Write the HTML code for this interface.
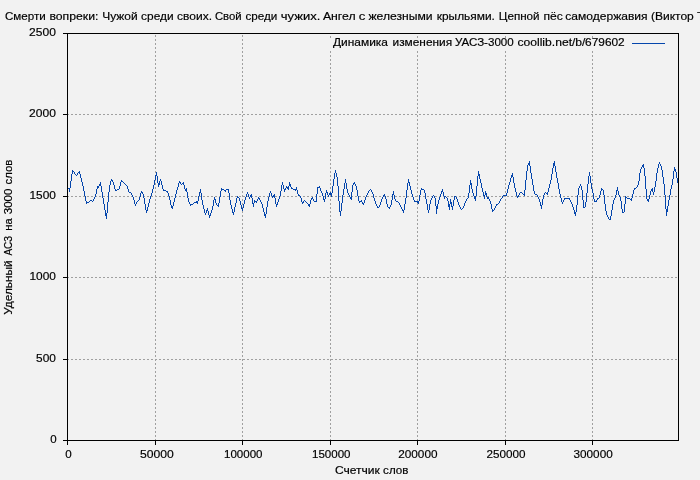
<!DOCTYPE html>
<html><head><meta charset="utf-8"><title>chart</title>
<style>
html,body{margin:0;padding:0;background:#f2f2f2;}
body{width:700px;height:480px;overflow:hidden;}
svg{display:block;will-change:transform;}
text{font-family:"Liberation Sans",sans-serif;font-size:11.5px;fill:#000;stroke:#000;stroke-width:0.18px;}
</style></head><body>
<svg width="700" height="480" viewBox="0 0 700 480">
<rect x="0" y="0" width="700" height="480" fill="#f2f2f2"/>
<g stroke="#a0a0a0" stroke-width="1" stroke-dasharray="2 2" fill="none" shape-rendering="crispEdges">
<line x1="67" y1="359.5" x2="679" y2="359.5"/>
<line x1="67" y1="277.5" x2="679" y2="277.5"/>
<line x1="67" y1="196.5" x2="679" y2="196.5"/>
<line x1="67" y1="114.5" x2="679" y2="114.5"/>
<line x1="155.5" y1="441" x2="155.5" y2="33"/>
<line x1="242.5" y1="441" x2="242.5" y2="33"/>
<line x1="330.5" y1="441" x2="330.5" y2="51"/>
<line x1="330.5" y1="38" x2="330.5" y2="34"/>
<line x1="417.5" y1="441" x2="417.5" y2="51"/>
<line x1="417.5" y1="38" x2="417.5" y2="34"/>
<line x1="505.5" y1="441" x2="505.5" y2="51"/>
<line x1="505.5" y1="38" x2="505.5" y2="34"/>
<line x1="592.5" y1="441" x2="592.5" y2="51"/>
<line x1="592.5" y1="38" x2="592.5" y2="34"/>
</g>
<g stroke="#000" stroke-width="1" fill="none" shape-rendering="crispEdges">
<rect x="67.5" y="33.5" width="611" height="407"/>
<line x1="67.5" y1="440" x2="67.5" y2="445"/>
<line x1="155.5" y1="440" x2="155.5" y2="445"/>
<line x1="242.5" y1="440" x2="242.5" y2="445"/>
<line x1="330.5" y1="440" x2="330.5" y2="445"/>
<line x1="417.5" y1="440" x2="417.5" y2="445"/>
<line x1="505.5" y1="440" x2="505.5" y2="445"/>
<line x1="592.5" y1="440" x2="592.5" y2="445"/>
<line x1="63" y1="440.5" x2="67" y2="440.5"/>
<line x1="63" y1="359.5" x2="67" y2="359.5"/>
<line x1="63" y1="277.5" x2="67" y2="277.5"/>
<line x1="63" y1="196.5" x2="67" y2="196.5"/>
<line x1="63" y1="114.5" x2="67" y2="114.5"/>
<line x1="63" y1="33.5" x2="67" y2="33.5"/>
</g>
<path fill="none" stroke="#0546ac" stroke-width="1" shape-rendering="crispEdges" d="M68.5 188v1M69.5 188v4M70.5 181v7M71.5 174v7M72.5 170v4M73.5 171v1M74.5 172v2M75.5 174v1M76.5 175v1M77.5 173v2M78.5 172v1M79.5 171v3M80.5 174v4M81.5 178v4M82.5 182v4M83.5 186v5M84.5 191v5M85.5 196v5M86.5 201v3M87.5 202v1M88.5 202v1M89.5 201v1M90.5 200v1M91.5 200v1M92.5 201v1M93.5 199v2M94.5 197v2M95.5 194v3M96.5 189v5M97.5 186v3M98.5 186v2M99.5 184v2M100.5 182v4M101.5 186v6M102.5 192v6M103.5 198v6M104.5 204v6M105.5 210v6M106.5 213v6M107.5 202v11M108.5 192v10M109.5 185v7M110.5 181v4M111.5 179v2M112.5 180v2M113.5 182v3M114.5 185v4M115.5 189v2M116.5 190v1M117.5 189v1M118.5 189v1M119.5 186v3M120.5 182v4M121.5 180v2M122.5 181v1M123.5 182v1M124.5 183v1M125.5 184v1M126.5 185v1M127.5 186v3M128.5 189v3M129.5 192v1M130.5 192v1M131.5 193v2M132.5 195v2M133.5 197v3M134.5 200v4M135.5 204v2M136.5 202v2M137.5 201v1M138.5 200v1M139.5 197v3M140.5 193v4M141.5 191v2M142.5 192v2M143.5 194v4M144.5 198v6M145.5 204v6M146.5 210v3M147.5 207v4M148.5 203v4M149.5 199v4M150.5 196v3M151.5 193v3M152.5 189v4M153.5 185v4M154.5 180v5M155.5 175v5M156.5 172v4M157.5 176v7M158.5 183v4M159.5 181v4M160.5 179v2M161.5 181v4M162.5 185v4M163.5 189v2M164.5 190v1M165.5 190v1M166.5 191v1M167.5 191v2M168.5 193v3M169.5 196v4M170.5 200v5M171.5 205v3M172.5 206v3M173.5 202v4M174.5 198v4M175.5 194v4M176.5 190v4M177.5 187v3M178.5 183v4M179.5 181v2M180.5 182v2M181.5 184v1M182.5 183v1M183.5 182v3M184.5 185v4M185.5 189v2M186.5 188v4M187.5 192v6M188.5 198v4M189.5 202v2M190.5 204v2M191.5 204v1M192.5 204v1M193.5 203v1M194.5 202v1M195.5 202v1M196.5 201v2M197.5 201v3M198.5 196v5M199.5 192v4M200.5 189v4M201.5 193v7M202.5 200v5M203.5 205v4M204.5 209v4M205.5 213v2M206.5 210v3M207.5 208v3M208.5 211v4M209.5 215v3M210.5 213v3M211.5 210v3M212.5 206v4M213.5 200v6M214.5 197v3M215.5 199v4M216.5 203v2M217.5 205v1M218.5 203v4M219.5 197v6M220.5 191v6M221.5 188v3M222.5 189v1M223.5 189v1M224.5 190v1M225.5 190v2M226.5 189v1M227.5 189v1M228.5 189v4M229.5 193v7M230.5 200v5M231.5 205v4M232.5 209v4M233.5 212v3M234.5 207v5M235.5 203v4M236.5 198v5M237.5 196v2M238.5 197v1M239.5 198v3M240.5 201v4M241.5 205v4M242.5 208v3M243.5 204v4M244.5 200v4M245.5 197v3M246.5 194v3M247.5 192v2M248.5 194v3M249.5 197v2M250.5 195v2M251.5 194v4M252.5 198v6M253.5 203v4M254.5 200v3M255.5 201v1M256.5 201v2M257.5 199v2M258.5 197v2M259.5 198v2M260.5 200v2M261.5 202v2M262.5 204v4M263.5 208v4M264.5 212v4M265.5 214v4M266.5 207v7M267.5 201v6M268.5 197v4M269.5 193v4M270.5 191v2M271.5 193v3M272.5 196v2M273.5 195v2M274.5 194v4M275.5 198v6M276.5 204v3M277.5 202v3M278.5 199v3M279.5 196v3M280.5 191v5M281.5 185v6M282.5 182v3M283.5 185v4M284.5 189v3M285.5 188v2M286.5 186v2M287.5 187v2M288.5 186v4M289.5 182v4M290.5 184v3M291.5 187v2M292.5 188v1M293.5 189v1M294.5 189v1M295.5 189v2M296.5 187v3M297.5 190v4M298.5 194v2M299.5 195v1M300.5 196v2M301.5 198v4M302.5 202v2M303.5 201v2M304.5 200v1M305.5 201v1M306.5 202v1M307.5 203v1M308.5 204v2M309.5 204v3M310.5 200v4M311.5 198v2M312.5 197v2M313.5 199v2M314.5 201v1M315.5 201v1M316.5 194v8M317.5 187v7M318.5 187v1M319.5 186v2M320.5 188v3M321.5 191v2M322.5 193v3M323.5 196v4M324.5 199v3M325.5 193v6M326.5 190v3M327.5 192v3M328.5 195v2M329.5 193v2M330.5 192v3M331.5 193v4M332.5 186v7M333.5 179v7M334.5 173v6M335.5 170v3M336.5 173v4M337.5 177v9M338.5 186v15M339.5 201v11M340.5 211v5M341.5 203v8M342.5 195v8M343.5 189v6M344.5 183v6M345.5 179v4M346.5 183v6M347.5 189v4M348.5 193v2M349.5 195v2M350.5 197v2M351.5 192v8M352.5 185v7M353.5 183v2M354.5 182v2M355.5 184v2M356.5 186v4M357.5 190v6M358.5 196v5M359.5 201v2M360.5 201v1M361.5 200v2M362.5 202v2M363.5 203v2M364.5 200v3M365.5 197v3M366.5 195v2M367.5 193v2M368.5 191v2M369.5 190v1M370.5 189v1M371.5 190v2M372.5 192v2M373.5 194v4M374.5 198v3M375.5 201v3M376.5 204v2M377.5 206v2M378.5 207v1M379.5 205v2M380.5 202v3M381.5 199v3M382.5 197v2M383.5 195v2M384.5 194v2M385.5 196v3M386.5 199v5M387.5 204v3M388.5 207v1M389.5 207v2M390.5 205v2M391.5 200v5M392.5 194v6M393.5 191v4M394.5 195v4M395.5 199v2M396.5 201v1M397.5 201v1M398.5 202v1M399.5 203v2M400.5 205v2M401.5 207v2M402.5 209v2M403.5 210v3M404.5 204v6M405.5 198v6M406.5 190v8M407.5 183v7M408.5 179v4M409.5 182v4M410.5 186v4M411.5 190v4M412.5 194v3M413.5 197v3M414.5 200v2M415.5 201v1M416.5 201v1M417.5 201v2M418.5 201v3M419.5 195v6M420.5 190v5M421.5 188v2M422.5 189v1M423.5 189v1M424.5 190v3M425.5 193v6M426.5 199v5M427.5 204v6M428.5 210v3M429.5 204v6M430.5 200v4M431.5 198v2M432.5 196v2M433.5 195v1M434.5 196v2M435.5 198v8M436.5 206v8M437.5 204v5M438.5 200v4M439.5 197v3M440.5 194v3M441.5 191v3M442.5 189v3M443.5 192v4M444.5 196v3M445.5 196v1M446.5 197v1M447.5 198v3M448.5 201v6M449.5 204v6M450.5 199v5M451.5 202v5M452.5 206v4M453.5 200v6M454.5 196v4M455.5 196v1M456.5 197v2M457.5 199v3M458.5 202v3M459.5 205v2M460.5 207v2M461.5 209v1M462.5 208v1M463.5 206v2M464.5 203v3M465.5 201v2M466.5 199v2M467.5 198v1M468.5 193v5M469.5 185v8M470.5 180v5M471.5 183v6M472.5 189v4M473.5 193v3M474.5 196v3M475.5 196v5M476.5 186v10M477.5 176v10M478.5 171v5M479.5 174v5M480.5 179v4M481.5 183v5M482.5 188v4M483.5 192v4M484.5 195v4M485.5 191v4M486.5 193v4M487.5 197v2M488.5 197v2M489.5 199v2M490.5 201v3M491.5 204v5M492.5 209v3M493.5 210v1M494.5 208v2M495.5 206v2M496.5 204v2M497.5 204v1M498.5 203v1M499.5 201v2M500.5 199v2M501.5 198v1M502.5 196v2M503.5 195v1M504.5 195v1M505.5 195v1M506.5 193v3M507.5 189v4M508.5 185v4M509.5 182v3M510.5 178v4M511.5 175v3M512.5 173v4M513.5 177v6M514.5 183v5M515.5 188v4M516.5 192v4M517.5 196v2M518.5 195v2M519.5 193v2M520.5 192v1M521.5 192v1M522.5 193v1M523.5 194v1M524.5 190v6M525.5 180v10M526.5 171v9M527.5 165v6M528.5 163v2M529.5 161v5M530.5 166v7M531.5 173v6M532.5 179v6M533.5 185v6M534.5 191v3M535.5 194v1M536.5 194v1M537.5 195v2M538.5 197v2M539.5 199v3M540.5 202v4M541.5 205v4M542.5 199v6M543.5 195v4M544.5 193v2M545.5 192v1M546.5 193v1M547.5 192v3M548.5 188v4M549.5 184v4M550.5 180v4M551.5 174v6M552.5 168v6M553.5 163v5M554.5 161v5M555.5 166v6M556.5 172v6M557.5 178v5M558.5 183v6M559.5 189v5M560.5 194v4M561.5 198v4M562.5 202v2M563.5 200v2M564.5 198v2M565.5 198v1M566.5 198v1M567.5 198v1M568.5 198v1M569.5 198v2M570.5 200v2M571.5 202v2M572.5 204v3M573.5 207v3M574.5 210v4M575.5 212v4M576.5 205v7M577.5 195v10M578.5 188v7M579.5 186v2M580.5 184v2M581.5 186v4M582.5 190v10M583.5 200v8M584.5 207v1M585.5 202v5M586.5 193v9M587.5 184v9M588.5 176v8M589.5 172v4M590.5 176v7M591.5 183v6M592.5 189v4M593.5 193v6M594.5 199v3M595.5 201v1M596.5 200v2M597.5 198v2M598.5 198v1M599.5 195v3M600.5 191v4M601.5 188v3M602.5 189v1M603.5 190v5M604.5 195v9M605.5 204v7M606.5 211v4M607.5 215v2M608.5 217v2M609.5 219v1M610.5 216v4M611.5 210v6M612.5 204v6M613.5 200v4M614.5 198v2M615.5 195v3M616.5 190v5M617.5 187v4M618.5 191v4M619.5 195v2M620.5 197v4M621.5 201v8M622.5 209v4M623.5 212v1M624.5 204v8M625.5 196v8M626.5 197v1M627.5 198v1M628.5 198v1M629.5 198v1M630.5 199v1M631.5 198v3M632.5 194v4M633.5 190v4M634.5 188v2M635.5 188v1M636.5 187v1M637.5 185v2M638.5 181v4M639.5 173v8M640.5 169v4M641.5 167v2M642.5 165v2M643.5 164v4M644.5 168v8M645.5 176v13M646.5 189v10M647.5 199v2M648.5 199v3M649.5 195v4M650.5 191v4M651.5 189v2M652.5 188v4M653.5 192v3M654.5 187v5M655.5 181v6M656.5 173v8M657.5 168v5M658.5 164v4M659.5 162v2M660.5 164v2M661.5 166v4M662.5 170v7M663.5 177v7M664.5 184v11M665.5 195v14M666.5 209v7M667.5 206v6M668.5 200v6M669.5 195v5M670.5 189v6M671.5 185v4M672.5 179v6M673.5 171v8M674.5 167v4M675.5 169v3M676.5 172v6M677.5 178v5"/>
<line x1="632" y1="43.5" x2="665" y2="43.5" stroke="#0546ac" stroke-width="1" shape-rendering="crispEdges"/>
<g>
<text x="4.90" y="20" textLength="40.80" lengthAdjust="spacingAndGlyphs">Смерти</text>
<text x="49.40" y="20" textLength="49.00" lengthAdjust="spacingAndGlyphs">вопреки:</text>
<text x="102.20" y="20" textLength="35.40" lengthAdjust="spacingAndGlyphs">Чужой</text>
<text x="141.10" y="20" textLength="32.50" lengthAdjust="spacingAndGlyphs">среди</text>
<text x="177.10" y="20" textLength="34.90" lengthAdjust="spacingAndGlyphs">своих.</text>
<text x="214.90" y="20" textLength="26.80" lengthAdjust="spacingAndGlyphs">Свой</text>
<text x="245.40" y="20" textLength="31.90" lengthAdjust="spacingAndGlyphs">среди</text>
<text x="280.80" y="20" textLength="39.50" lengthAdjust="spacingAndGlyphs">чужих.</text>
<text x="322.90" y="20" textLength="32.70" lengthAdjust="spacingAndGlyphs">Ангел</text>
<text x="358.80" y="20" textLength="6.60" lengthAdjust="spacingAndGlyphs">с</text>
<text x="368.50" y="20" textLength="64.10" lengthAdjust="spacingAndGlyphs">железными</text>
<text x="436.80" y="20" textLength="58.10" lengthAdjust="spacingAndGlyphs">крыльями.</text>
<text x="498.80" y="20" textLength="40.80" lengthAdjust="spacingAndGlyphs">Цепной</text>
<text x="543.50" y="20" textLength="19.30" lengthAdjust="spacingAndGlyphs">пёс</text>
<text x="565.30" y="20" textLength="82.30" lengthAdjust="spacingAndGlyphs">самодержавия</text>
<text x="650.90" y="20" textLength="42.90" lengthAdjust="spacingAndGlyphs">(Виктор</text>
<text x="696.90" y="20" textLength="39.60" lengthAdjust="spacingAndGlyphs">Тюрин)</text>
<text x="333.00" y="46" textLength="55.00" lengthAdjust="spacingAndGlyphs">Динамика</text>
<text x="392.50" y="46" textLength="59.60" lengthAdjust="spacingAndGlyphs">изменения</text>
<text x="454.90" y="46" textLength="58.80" lengthAdjust="spacingAndGlyphs">УАСЗ-3000</text>
<text x="517.40" y="46" textLength="68.10" lengthAdjust="spacingAndGlyphs">coollib.net/b/</text>
<text x="585.10" y="46" textLength="39.60" lengthAdjust="spacingAndGlyphs">679602</text>
<text x="65.35" y="458" textLength="6.45" lengthAdjust="spacingAndGlyphs">0</text>
<text x="140.00" y="458" textLength="33.75" lengthAdjust="spacingAndGlyphs">50000</text>
<text x="224.00" y="458" textLength="38.50" lengthAdjust="spacingAndGlyphs">100000</text>
<text x="312.00" y="458" textLength="38.50" lengthAdjust="spacingAndGlyphs">150000</text>
<text x="398.25" y="458" textLength="39.25" lengthAdjust="spacingAndGlyphs">200000</text>
<text x="486.50" y="458" textLength="39.00" lengthAdjust="spacingAndGlyphs">250000</text>
<text x="573.55" y="458" textLength="39.15" lengthAdjust="spacingAndGlyphs">300000</text>
<text x="50.25" y="443" textLength="6.40" lengthAdjust="spacingAndGlyphs">0</text>
<text x="36.10" y="362" textLength="19.80" lengthAdjust="spacingAndGlyphs">500</text>
<text x="29.50" y="280" textLength="26.40" lengthAdjust="spacingAndGlyphs">1000</text>
<text x="29.50" y="199" textLength="26.40" lengthAdjust="spacingAndGlyphs">1500</text>
<text x="29.10" y="117" textLength="26.80" lengthAdjust="spacingAndGlyphs">2000</text>
<text x="29.10" y="36" textLength="26.80" lengthAdjust="spacingAndGlyphs">2500</text>
<text x="334.90" y="474" textLength="44.90" lengthAdjust="spacingAndGlyphs">Счетчик</text>
<text x="383.10" y="474" textLength="25.30" lengthAdjust="spacingAndGlyphs">слов</text>
<text transform="translate(12,314.80) rotate(-90)" textLength="54.40" lengthAdjust="spacingAndGlyphs">Удельный</text>
<text transform="translate(12,255.60) rotate(-90)" textLength="19.70" lengthAdjust="spacingAndGlyphs">АСЗ</text>
<text transform="translate(12,230.80) rotate(-90)" textLength="12.40" lengthAdjust="spacingAndGlyphs">на</text>
<text transform="translate(12,214.20) rotate(-90)" textLength="25.60" lengthAdjust="spacingAndGlyphs">3000</text>
<text transform="translate(12,184.40) rotate(-90)" textLength="24.65" lengthAdjust="spacingAndGlyphs">слов</text>
</g>
</svg>
</body></html>
